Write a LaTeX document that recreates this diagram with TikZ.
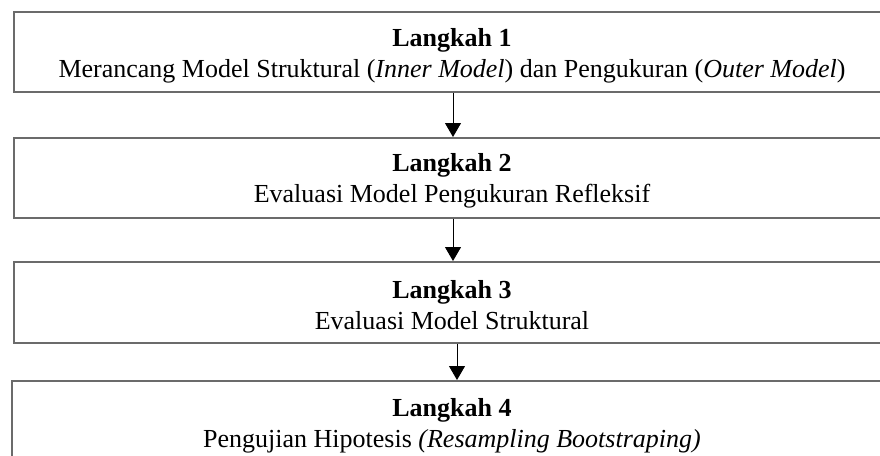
\documentclass[tikz,border=0pt]{standalone}
\usepackage{fontspec}
\setmainfont{Liberation Serif}
\usetikzlibrary{arrows.meta}
\begin{document}
\begin{tikzpicture}[x=1pt,y=-1pt,
  stepbox/.style={draw=black!58,line width=1.5pt,anchor=north west,minimum width=900pt,inner sep=0pt,fill=none},
  steptext/.style={align=center,inner sep=0pt,font=\fontsize{26}{31}\selectfont},
  arr/.style={draw=black,line width=1pt,-{Triangle[length=14pt,width=16pt]}}]
\useasboundingbox (0,0) rectangle (880,455);
\clip (0,0) rectangle (880,455);
\node[stepbox,minimum height=80pt] (b1) at (13,11) {};
\node[stepbox,minimum height=80pt] (b2) at (13,137) {};
\node[stepbox,minimum height=81pt] (b3) at (13,261) {};
\node[stepbox,minimum height=100pt] (b4) at (11,380) {};
\node[steptext,anchor=base] (t1) at (452,77) {\textbf{Langkah 1}\\Merancang Model Struktural (\textit{Inner Model}) dan Pengukuran (\textit{Outer Model})};
\node[steptext,anchor=base] (t2) at (452,202) {\textbf{Langkah 2}\\Evaluasi Model Pengukuran Refleksif};
\node[steptext,anchor=base] (t3) at (452,329) {\textbf{Langkah 3}\\Evaluasi Model Struktural};
\node[steptext,anchor=base] (t4) at (452,447) {\textbf{Langkah 4}\\Pengujian Hipotesis \textit{(Resampling Bootstraping)}};
\coordinate (c1) at (453,0);
\coordinate (c3) at (457,0);
\draw[arr] (c1 |- b1.south) -- (c1 |- b2.north);
\draw[arr] (c1 |- b2.south) -- (c1 |- b3.north);
\draw[arr] (c3 |- b3.south) -- (c3 |- b4.north);
\end{tikzpicture}
\end{document}
